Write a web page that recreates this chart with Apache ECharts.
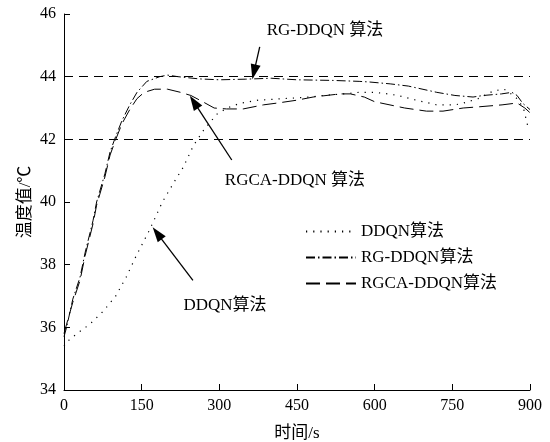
<!DOCTYPE html>
<html><head><meta charset="utf-8">
<script src="https://cdn.jsdelivr.net/npm/echarts@6/dist/echarts.min.js"></script>
<style>html,body{margin:0;padding:0;background:#fff}#c{width:550px;height:442px}</style>
</head><body><div id="c"></div>
<script>
// Data (time in s, temperature in °C)
var ddqnT = [0,10,25,50,75,100,120,140,165,190,215,230,250,270,295,315,340,375,425,475,500,540,570,600,625,645,680,720,755,770,800,830,850,868,878,888,896];
var ddqnV = [35.4,35.6,35.8,36.1,36.5,37.0,37.6,38.3,39.1,40.0,40.7,41.1,41.8,42.3,42.8,43.0,43.15,43.25,43.3,43.35,43.4,43.45,43.5,43.5,43.45,43.4,43.25,43.1,43.1,43.15,43.3,43.55,43.6,43.4,43.25,42.95,42.4];
var rgT = [0,5,17,31,41,56,63,79,89,100,112,127,141,160,185,200,220,260,300,350,400,450,520,570,590,630,665,720,755,790,810,845,865,875,886,900];
var rgV = [35.7,36.0,36.9,37.6,38.4,39.4,40.0,40.9,41.6,42.1,42.6,43.1,43.5,43.85,44.0,44.05,44.0,43.93,43.9,43.92,43.95,43.9,43.88,43.85,43.83,43.77,43.7,43.5,43.4,43.35,43.4,43.45,43.5,43.4,43.15,42.95];
var rgcaT = [0,5,17,31,41,56,63,79,89,100,112,127,141,155,175,200,225,245,268,290,314,346,385,413,450,481,533,553,580,600,658,700,732,771,803,846,875,890,900];
var rgcaV = [35.8,36.1,36.8,37.5,38.3,39.3,39.9,40.8,41.5,42.0,42.5,42.95,43.3,43.5,43.6,43.6,43.5,43.4,43.2,43.0,42.97,42.97,43.1,43.16,43.25,43.35,43.45,43.45,43.35,43.2,43.0,42.9,42.9,43.0,43.04,43.1,43.16,43.0,42.85];
var refLines = [44, 42];
var seriesNames = ['DDQN算法','RG-DDQN算法','RGCA-DDQN算法'];
var xTicks = [0,150,300,450,600,750,900];
var yTicks = [34,36,38,40,42,44,46];
// Annotations (data coordinates)
var annTexts = ['RG-DDQN 算法','RGCA-DDQN 算法','DDQN算法'];
var annTextPos = [[504,45.46],[446,40.7],[311,36.7]];
var annArrows = [[[378,44.95],[367,44.15]],[[324,41.34],[251,43.19]],[[249,37.5],[180,39.0]]];

function zip(t, v){ return t.map(function(x,i){return [x, v[i]];}); }
var FONT = '"Liberation Serif","Times New Roman","Noto Sans CJK SC",serif';

var chart = echarts.init(document.getElementById('c'));
chart.setOption({
  animation:false,
  textStyle:{fontFamily:FONT, color:'#000'},
  grid:{left:64, right:20, top:14, bottom:52, outerBoundsMode:'none', containLabel:false},
  legend:{
    orient:'vertical', left:300, top:218, itemWidth:50, itemHeight:14, itemGap:9,
    itemStyle:{opacity:0},
    textStyle:{fontFamily:FONT, fontSize:17, color:'#000'},
    data:seriesNames.map(function(n){return {name:n, itemStyle:{opacity:0}};})
  },
  xAxis:{
    type:'value', min:0, max:900, interval:150,
    name:'时间/s', nameLocation:'middle', nameGap:35, nameMoveOverlap:false,
    nameTextStyle:{fontFamily:FONT, fontSize:17, color:'#000'},
    axisLine:{lineStyle:{color:'#000', width:1}},
    axisTick:{inside:true, length:6, lineStyle:{color:'#000'}},
    axisLabel:{fontFamily:FONT, fontSize:16, color:'#000', margin:8},
    splitLine:{show:false}
  },
  yAxis:{
    type:'value', min:34, max:46, interval:2,
    name:'温度值/℃', nameLocation:'middle', nameGap:30, nameMoveOverlap:false,
    nameTextStyle:{fontFamily:FONT, fontSize:17, color:'#000'},
    axisLine:{show:true, lineStyle:{color:'#000', width:1}},
    axisTick:{show:true, inside:true, length:6, lineStyle:{color:'#000'}},
    axisLabel:{fontFamily:FONT, fontSize:16, color:'#000', margin:8},
    splitLine:{show:false}
  },
  series:[
    {name:seriesNames[0], type:'line', data:zip(ddqnT, ddqnV), showSymbol:false, symbol:'none',
     lineStyle:{color:'#000', width:1.2, type:[1.2,6]}, itemStyle:{color:'#000'}},
    {name:seriesNames[1], type:'line', data:zip(rgT, rgV), showSymbol:false, symbol:'none',
     lineStyle:{color:'#000', width:1, type:[9,3,1.5,3]}, itemStyle:{color:'#000'},
     markLine:{silent:true, symbol:'none', label:{show:false},
       lineStyle:{color:'#000', width:1, type:[9,6]},
       data: refLines.map(function(v){return {yAxis:v};})}},
    {name:seriesNames[2], type:'line', data:zip(rgcaT, rgcaV), showSymbol:false, symbol:'none',
     lineStyle:{color:'#000', width:1, type:[14,6]}, itemStyle:{color:'#000'}},
    {name:'ann', type:'line', data:[], silent:true,
     markLine:{silent:true, symbol:['none','triangle'], symbolSize:[10,15], label:{show:false},
       lineStyle:{color:'#000', width:1.3, type:'solid'},
       data: annArrows.map(function(a){return [{coord:a[0]},{coord:a[1]}];})},
     markPoint:{silent:true, symbol:'rect', symbolSize:1, itemStyle:{color:'rgba(0,0,0,0)'},
       label:{show:true, position:'inside', color:'#000', fontFamily:FONT, fontSize:17,
         formatter:function(p){return p.name;}},
       data: annTexts.map(function(t,i){return {name:t, coord:annTextPos[i]};})}
    }
  ]
});
</script></body></html>
